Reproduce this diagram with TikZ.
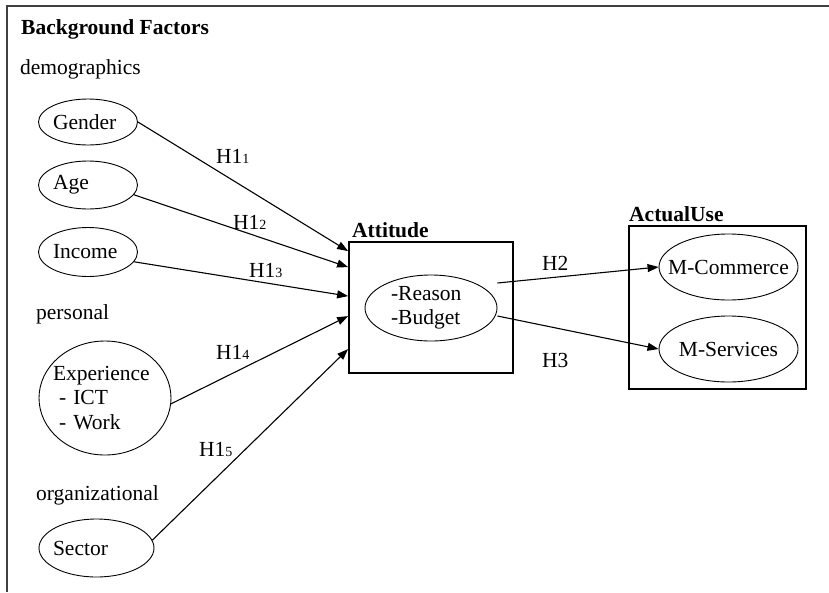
\documentclass[tikz,border=0pt]{standalone}
\usepackage{fontspec}
\setmainfont{Liberation Serif}
\usetikzlibrary{shapes.geometric,arrows.meta}
\newcommand{\sbs}[1]{{\fontsize{14}{14}\selectfont #1}}
\begin{document}
\begin{tikzpicture}[x=1pt,y=-1pt,
  every node/.style={font=\fontsize{21.5}{24.5}\selectfont},
  txt/.style={anchor=base west, inner sep=0},
  hd/.style={anchor=base west, inner sep=0, font=\fontsize{21.5}{24.5}\selectfont\bfseries},
  ell/.style={draw, ellipse, inner sep=0, line width=0.9pt},
  lft/.style={align=left, text width=#1},
  box/.style={draw, rectangle, line width=1.8pt, inner sep=0},
  conn/.style={line width=1.1pt, -{Triangle[length=11pt,width=8pt]}}
]
\useasboundingbox (0,0) rectangle (829,592);
\draw[line width=2pt, black!75] (829,6) -- (7,6) -- (7,592);

% headings
\node[hd] (bf) at (21,34) {Background Factors};
\node[txt] (demo) at (20,74) {demographics};
\node[txt] (pers) at (36,319) {personal};
\node[txt] (org) at (36,500) {organizational};

% left ellipses
\node[ell, minimum width=98, minimum height=46, lft=70pt] (gender) at (88,122) {Gender};
\node[ell, minimum width=98, minimum height=48, lft=70pt] (age) at (88,185) {Age};
\node[ell, minimum width=98, minimum height=49, lft=70pt] (income) at (88,252) {Income};
\node[ell, minimum width=132, minimum height=114, lft=104pt, inner xsep=-5.5pt] (exp) at (105,398) {Experience\\\hspace*{6pt}- ICT\\\hspace*{6pt}- Work};
\node[ell, minimum width=115, minimum height=58, lft=87pt, inner xsep=-3pt] (sector) at (96.5,548) {Sector};

% attitude
\node[box, minimum width=164, minimum height=131] (att) at (431,307.5) {};
\node[hd] (attl) at (352,237) {Attitude};
\node[ell, minimum width=132, minimum height=66, lft=80pt] (reason) at (431,308) {-Reason\\-Budget};

% actual use
\node[box, minimum width=177, minimum height=163] (use) at (717.5,307.5) {};
\node[hd] (usel) at (629,221) {ActualUse};
\node[ell, minimum width=139, minimum height=66, inner xsep=-11.3pt] (comm) at (728.5,267) {M-Commerce};
\node[ell, minimum width=139, minimum height=66, inner xsep=-0.5pt] (serv) at (728.5,349) {M-Services};

% connectors
\draw[conn] (gender.east) -- ([yshift=-10pt]att.north west);
\draw[conn] (age.-12) -- ([yshift=-26pt]att.north west);
\draw[conn] (income.-12) -- ([yshift=-55pt]att.north west);
\draw[conn] (exp.-5) -- ([yshift=-75pt]att.north west);
\draw[conn] (sector.8) -- ([yshift=-108pt]att.north west);
\draw[conn] ([yshift=25pt]reason.east) -- (comm.west);
\draw[conn] ([yshift=-8pt]reason.east) -- (serv.west);

% labels
\node[txt] (l1) at (216,163) {H1\sbs{1}};
\node[txt] (l2) at (233,229) {H1\sbs{2}};
\node[txt] (l3) at (249,277) {H1\sbs{3}};
\node[txt] (l4) at (216,359) {H1\sbs{4}};
\node[txt] (l5) at (199,456) {H1\sbs{5}};
\node[txt] (l6) at (542,270) {H2};
\node[txt] (l7) at (542,367) {H3};
\end{tikzpicture}
\end{document}
